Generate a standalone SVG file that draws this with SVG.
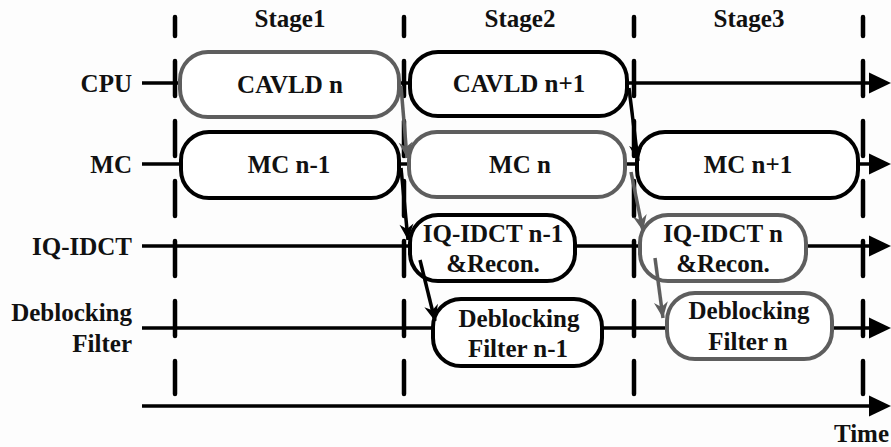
<svg xmlns="http://www.w3.org/2000/svg" width="891" height="447" viewBox="0 0 891 447">
<defs>
<style>
text{font-family:"Liberation Serif","Times New Roman",serif;font-weight:bold;font-size:25px;fill:#111}
.c{text-anchor:middle}
.r{text-anchor:end}
.dash{stroke:#000;stroke-width:4.5;stroke-dasharray:35 25;stroke-dashoffset:16;stroke-linecap:round;fill:none}
.row{stroke:#000;stroke-width:3.5;fill:none}
.bk{fill:#fff;stroke:#000;stroke-width:4}
.gy{fill:#fff;stroke:#5e5e5e;stroke-width:4}
.cb{stroke:#000;stroke-width:3.5;fill:none;marker-end:url(#ab)}
.cg{stroke:#5e5e5e;stroke-width:3.5;fill:none;marker-end:url(#ag)}
</style>
<marker id="ab" markerUnits="userSpaceOnUse" markerWidth="18" markerHeight="16" viewBox="-17 -8 18 16" refX="0" refY="0" orient="auto">
<path d="M0,0 L-16,-7 L-11,0 L-16,7 Z" fill="#000"/>
</marker>
<marker id="ag" markerUnits="userSpaceOnUse" markerWidth="18" markerHeight="16" viewBox="-17 -8 18 16" refX="0" refY="0" orient="auto">
<path d="M0,0 L-16,-7 L-11,0 L-16,7 Z" fill="#5e5e5e"/>
</marker>
</defs>
<rect width="891" height="447" fill="#fdfdfd"/>

<g id="stage-dividers">
<path class="dash" d="M175 17 V394"/>
<path class="dash" d="M404 17 V394"/>
<path class="dash" d="M634 17 V394"/>
<path class="dash" d="M863 17 V394"/>
</g>

<g id="stage-labels">
<text class="c" x="290" y="27">Stage1</text>
<text class="c" x="520" y="27">Stage2</text>
<text class="c" x="749" y="27">Stage3</text>
</g>

<g id="rows">
<text class="r" x="132" y="92">CPU</text>
<text class="r" x="132" y="173">MC</text>
<text class="r" x="132" y="255">IQ-IDCT</text>
<text class="r" x="132" y="321">Deblocking</text>
<text class="r" x="132" y="352">Filter</text>
<path class="row" d="M142 83 H870 M142 164 H870 M142 246 H870 M142 328 H870 M142 406 H870"/>
<polygon points="869,72.5 891,83 869,93.5"/>
<polygon points="869,153.5 891,164 869,174.5"/>
<polygon points="869,235.5 891,246 869,256.5"/>
<polygon points="869,317.5 891,328 869,338.5"/>
<polygon points="869,395.5 891,406 869,416.5"/>
<text class="r" x="889" y="442">Time</text>
</g>

<g id="cavld-n">
<rect class="gy" x="180" y="52" width="219" height="65" rx="28"/>
<text class="c" x="290" y="93">CAVLD n</text>
</g>
<g id="cavld-n1">
<rect class="bk" x="410" y="52" width="217" height="64" rx="28"/>
<text class="c" x="519" y="92">CAVLD n+1</text>
</g>
<g id="mc-n-1">
<rect class="bk" x="181" y="132" width="218" height="66" rx="28"/>
<text class="c" x="289" y="173">MC n-1</text>
</g>
<g id="mc-n">
<rect class="gy" x="409" y="132" width="216" height="65" rx="28"/>
<text class="c" x="520" y="173">MC n</text>
</g>
<g id="mc-n1">
<rect class="bk" x="637" y="132" width="221" height="66" rx="28"/>
<text class="c" x="748" y="173">MC n+1</text>
</g>
<g id="iq-n-1">
<rect class="bk" x="410" y="215" width="165" height="66" rx="28"/>
<text class="c" x="493" y="242">IQ-IDCT n-1</text>
<text class="c" x="493" y="272">&amp;Recon.</text>
</g>
<g id="iq-n">
<rect class="gy" x="640" y="215" width="166" height="66" rx="28"/>
<text class="c" x="723" y="242">IQ-IDCT n</text>
<text class="c" x="723" y="272">&amp;Recon.</text>
</g>
<g id="df-n-1">
<rect class="bk" x="433" y="299" width="169" height="67" rx="28"/>
<text class="c" x="519" y="327">Deblocking</text>
<text class="c" x="518" y="357">Filter n-1</text>
</g>
<g id="df-n">
<rect class="gy" x="667" y="293" width="165" height="66" rx="28"/>
<text class="c" x="749" y="319">Deblocking</text>
<text class="c" x="748" y="350">Filter n</text>
</g>

<g id="connectors">
<path class="cg" d="M401 86 L407 158"/>
<path class="cb" d="M401 168 L408 240"/>
<path class="cb" d="M420 260 L435 321"/>
<path class="cb" d="M629 88 L638 161"/>
<path class="cg" d="M631 172 L643 231"/>
<path class="cg" d="M655 258 L663 318"/>
</g>
</svg>
